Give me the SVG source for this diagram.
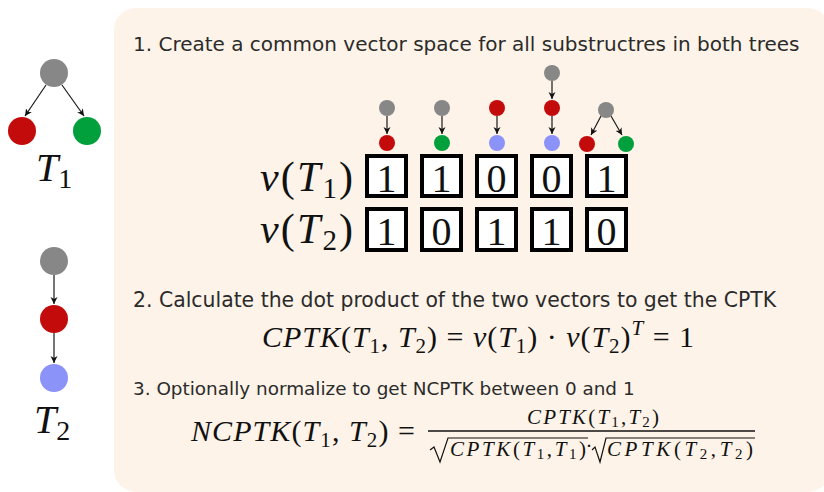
<svg xmlns="http://www.w3.org/2000/svg" width="824" height="492" viewBox="0 0 824 492">
<style>
.txt{font-family:"DejaVu Sans",sans-serif;fill:#2b2b2b}
.m{font-family:"Liberation Serif",serif;fill:#111}
.i{font-style:italic}
.edge{stroke:#1a1a1a;stroke-width:1.2;fill:none;marker-end:url(#ah)}
.box{fill:#fff;stroke:#000;stroke-width:4}
.dig{font-family:"Liberation Serif",serif;font-size:40px;fill:#111;text-anchor:middle}
.g{fill:#878787}.r{fill:#c40b0b}.gr{fill:#01a03c}.b{fill:#8b93f8}
.f1{font-size:30px}.f2{font-size:21px}.f3{font-size:21px}.f4{font-size:15px}
</style>
<defs>
<marker id="ah" markerWidth="8" markerHeight="8" refX="7" refY="3.5" orient="auto" markerUnits="userSpaceOnUse">
<path d="M0,0 L7,3.5 L0,7 L2,3.5 z" fill="#111"/>
</marker>
</defs>
<rect x="114" y="8" width="716" height="484" rx="22" fill="#fdf3e8"/>

<g id="connectors">
<line class="edge" x1="46" y1="85" x2="25" y2="116"/>
<line class="edge" x1="62" y1="85" x2="84" y2="116"/>
<line class="edge" x1="54" y1="275" x2="54" y2="304"/>
<line class="edge" x1="54" y1="333" x2="54" y2="363"/>
<line class="edge" x1="387" y1="116" x2="387" y2="134"/>
<line class="edge" x1="442" y1="116" x2="442" y2="134"/>
<line class="edge" x1="497" y1="116" x2="497" y2="134"/>
<line class="edge" x1="552" y1="81" x2="552" y2="99"/>
<line class="edge" x1="552" y1="116" x2="552" y2="134"/>
<line class="edge" x1="601" y1="116" x2="591" y2="135"/>
<line class="edge" x1="611" y1="116" x2="622" y2="135"/>
</g>

<g id="tree-T1">
<circle class="g" cx="54" cy="73" r="14"/>
<circle class="r" cx="22" cy="131" r="14"/>
<circle class="gr" cx="87" cy="131" r="14"/>
<text class="m" x="36" y="181" font-size="40"><tspan class="i">T</tspan><tspan font-size="28" dy="7">1</tspan></text>
</g>
<g id="tree-T2">
<circle class="g" cx="54" cy="261" r="14"/>
<circle class="r" cx="54" cy="319" r="14"/>
<circle class="b" cx="54" cy="378" r="14"/>
<text class="m" x="34" y="433" font-size="40"><tspan class="i">T</tspan><tspan font-size="28" dy="7">2</tspan></text>
</g>

<g id="panel-text">
<text class="txt" x="133" y="51" style="font-size:20px">1. Create a common vector space for all substructres in both trees</text>
<text class="txt" x="133" y="307" style="font-size:20.4px">2. Calculate the dot product of the two vectors to get the CPTK</text>
<text class="txt" x="133" y="395" style="font-size:18.4px">3. Optionally normalize to get NCPTK between 0 and 1</text>
</g>

<g id="sub1"><circle class="g" cx="387" cy="108" r="8"/><circle class="r" cx="387" cy="143" r="8"/></g>
<g id="sub2"><circle class="g" cx="442" cy="108" r="8"/><circle class="gr" cx="442" cy="143" r="8"/></g>
<g id="sub3"><circle class="r" cx="497" cy="108" r="8"/><circle class="b" cx="497" cy="143" r="8"/></g>
<g id="sub4"><circle class="g" cx="552" cy="73" r="8"/><circle class="r" cx="552" cy="108" r="8"/><circle class="b" cx="552" cy="143" r="8"/></g>
<g id="sub5"><circle class="g" cx="606" cy="110" r="8"/><circle class="r" cx="587" cy="144" r="8"/><circle class="gr" cx="626" cy="144" r="8"/></g>

<g id="vectors">
<text class="m" x="260" y="191" font-size="42" textLength="93" lengthAdjust="spacing"><tspan class="i">v</tspan>(<tspan class="i">T</tspan><tspan font-size="29" dy="7">1</tspan><tspan dy="-7">)</tspan></text>
<text class="m" x="260" y="243" font-size="42" textLength="93" lengthAdjust="spacing"><tspan class="i">v</tspan>(<tspan class="i">T</tspan><tspan font-size="29" dy="7">2</tspan><tspan dy="-7">)</tspan></text>
<rect class="box" x="367" y="156" width="39" height="40"/>
<rect class="box" x="422" y="156" width="39" height="40"/>
<rect class="box" x="477" y="156" width="39" height="40"/>
<rect class="box" x="532" y="156" width="39" height="40"/>
<rect class="box" x="587" y="156" width="39" height="40"/>
<rect class="box" x="367" y="209" width="39" height="41"/>
<rect class="box" x="422" y="209" width="39" height="41"/>
<rect class="box" x="477" y="209" width="39" height="41"/>
<rect class="box" x="532" y="209" width="39" height="41"/>
<rect class="box" x="587" y="209" width="39" height="41"/>
<text class="dig" x="386.5" y="192">1</text>
<text class="dig" x="441.5" y="192">1</text>
<text class="dig" x="496.5" y="192">0</text>
<text class="dig" x="551.5" y="192">0</text>
<text class="dig" x="606.5" y="192">1</text>
<text class="dig" x="386.5" y="245">1</text>
<text class="dig" x="441.5" y="245">0</text>
<text class="dig" x="496.5" y="245">1</text>
<text class="dig" x="551.5" y="245">1</text>
<text class="dig" x="606.5" y="245">0</text>
</g>

<g id="formula-cptk">
<text class="m f1" x="262" y="347" textLength="432" lengthAdjust="spacing"><tspan class="i">CPTK</tspan>(<tspan class="i">T</tspan><tspan class="f2" dy="6">1</tspan><tspan dy="-6">, </tspan><tspan class="i">T</tspan><tspan class="f2" dy="6">2</tspan><tspan dy="-6">) = </tspan><tspan class="i">v</tspan>(<tspan class="i">T</tspan><tspan class="f2" dy="6">1</tspan><tspan dy="-6">) · </tspan><tspan class="i">v</tspan>(<tspan class="i">T</tspan><tspan class="f2" dy="6">2</tspan><tspan dy="-6">)</tspan><tspan class="f2 i" dy="-12">T</tspan><tspan dy="12"> = 1</tspan></text>
</g>

<g id="formula-ncptk">
<text class="m f1" x="191" y="441" textLength="224" lengthAdjust="spacing"><tspan class="i">NCPTK</tspan>(<tspan class="i">T</tspan><tspan class="f2" dy="6">1</tspan><tspan dy="-6">, </tspan><tspan class="i">T</tspan><tspan class="f2" dy="6">2</tspan><tspan dy="-6">) =</tspan></text>
<text class="m f3" x="527" y="424" textLength="132" lengthAdjust="spacing"><tspan class="i">CPTK</tspan>(<tspan class="i">T</tspan><tspan class="f4" dy="3">1</tspan><tspan dy="-3">,</tspan><tspan class="i">T</tspan><tspan class="f4" dy="3">2</tspan><tspan dy="-3">)</tspan></text>
<line x1="428" y1="431" x2="755" y2="431" stroke="#111" stroke-width="1.4"/>
<path d="M430,450 L434,447 L440,462 L448,438 L588,438" stroke="#111" stroke-width="1.2" fill="none"/>
<path d="M592,450 L595,447 L600,462 L606,438 L755,438" stroke="#111" stroke-width="1.2" fill="none"/>
<text class="m f3" x="450" y="456" textLength="136" lengthAdjust="spacing"><tspan class="i">CPTK</tspan>(<tspan class="i">T</tspan><tspan class="f4" dy="3">1</tspan><tspan dy="-3">,</tspan><tspan class="i">T</tspan><tspan class="f4" dy="3">1</tspan><tspan dy="-3">)</tspan></text>
<text class="m f3" x="589" y="453" text-anchor="middle">·</text>
<text class="m f3" x="607" y="456" textLength="146" lengthAdjust="spacing"><tspan class="i">CPTK</tspan>(<tspan class="i">T</tspan><tspan class="f4" dy="3">2</tspan><tspan dy="-3">,</tspan><tspan class="i">T</tspan><tspan class="f4" dy="3">2</tspan><tspan dy="-3">)</tspan></text>
</g>
</svg>
